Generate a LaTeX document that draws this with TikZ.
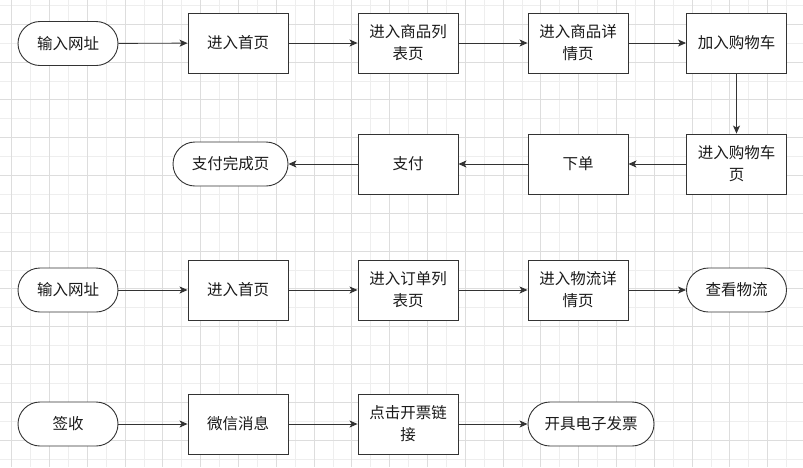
\documentclass[tikz,border=0pt]{standalone}
\usepackage{fontspec}
\setmainfont{Noto Sans CJK SC}
\usetikzlibrary{arrows.meta}
\definecolor{gmin}{HTML}{EEEEEE}
\definecolor{gmaj}{HTML}{DDDDDD}
\definecolor{ink}{HTML}{333333}
\definecolor{txt}{HTML}{1A1A1A}
\begin{document}
\begin{tikzpicture}[x=1pt,y=-1pt,
  base/.style={draw=ink, line width=0.9pt, fill=white, inner sep=0pt, align=center, text=txt,
    font=\fontsize{15.5}{22}\selectfont},
  box/.style={base, minimum width=100pt, minimum height=60pt},
  term/.style={base, rounded corners=22pt, minimum width=100pt, minimum height=44pt},
  link/.style={draw=ink, line width=0.9pt, -{Stealth[length=8pt,width=7pt,inset=2pt]}}
]
\useasboundingbox (0,0) rectangle (803,467);
\fill[white] (0,0) rectangle (803,467);
\foreach \i in {0,...,43} \draw[gmin, line width=0.9pt] ({-7.2+18.9*\i},0) -- ++(0,467);
\foreach \i in {0,...,24} \draw[gmin, line width=0.9pt] (0,{5.4+18.9*\i}) -- ++(803,0);
\foreach \i in {0,...,21} \draw[gmaj, line width=0.9pt] ({11.7+37.8*\i},0) -- ++(0,467);
\foreach \i in {0,...,12} \draw[gmaj, line width=0.9pt] (0,{24.3+37.8*\i}) -- ++(803,0);

% row 1
\node[term] (a1) at (68,43.5) {输入网址};
\node[box] (a2) at (238,43) {进入首页};
\node[box] (a3) at (408,43) {进入商品列\\表页};
\node[box] (a4) at (578,43) {进入商品详\\情页};
\node[box] (a5) at (736.5,43) {加入购物车};
% row 2
\node[box] (b1) at (736.5,164) {进入购物车\\页};
\node[box] (b2) at (578,164) {下单};
\node[box] (b3) at (408,164) {支付};
\node[term, minimum width=115pt] (b4) at (230.5,164) {支付完成页};
% row 3
\node[term] (c1) at (68,290) {输入网址};
\node[box] (c2) at (238,290) {进入首页};
\node[box] (c3) at (408,290) {进入订单列\\表页};
\node[box] (c4) at (578,290) {进入物流详\\情页};
\node[term] (c5) at (736.5,290) {查看物流};
% row 4
\node[term] (d1) at (68,424) {签收};
\node[box] (d2) at (238,424) {微信消息};
\node[box] (d3) at (408,424) {点击开票链\\接};
\node[term, minimum width=126pt] (d4) at (591,424) {开具电子发票};

\draw[link] (a1) -- (a2);
\draw[link] (a2) -- (a3);
\draw[link] (a3) -- (a4);
\draw[link] (a4) -- (a5);
\draw[link] (a5) -- (b1);
\draw[link] (b1) -- (b2);
\draw[link] (b2) -- (b3);
\draw[link] (b3) -- (b4);
\draw[link] (c1) -- (c2);
\draw[link] (c2) -- (c3);
\draw[link] (c3) -- (c4);
\draw[link] (c4) -- (c5);
\draw[link] (d1) -- (d2);
\draw[link] (d2) -- (d3);
\draw[link] (d3) -- (d4);
\end{tikzpicture}
\end{document}
